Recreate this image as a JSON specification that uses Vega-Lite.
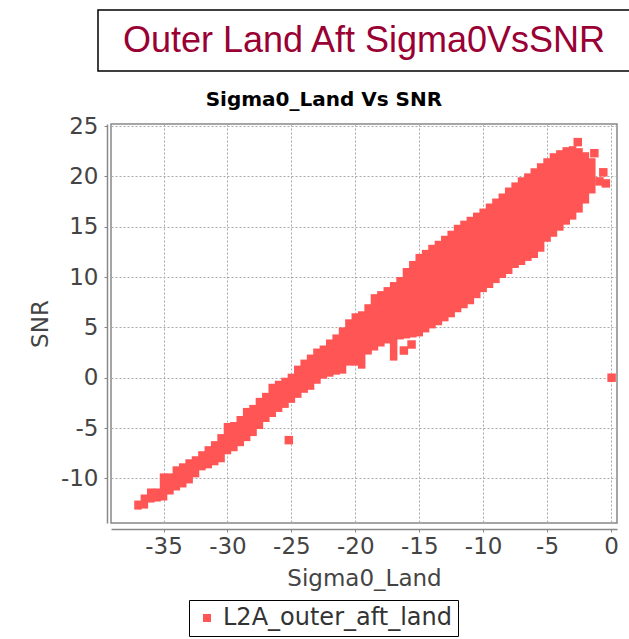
{
  "$schema": "https://vega.github.io/schema/vega-lite/v6.json",
  "padding": {"left": 28, "top": 9, "right": 0, "bottom": 2},
  "background": "white",
  "bounds": "flush",
  "center": true,
  "spacing": 53,
  "config": {
    "font": "DejaVu Sans",
    "view": {"stroke": "#888888", "strokeWidth": 1.5},
    "axis": {
      "domainColor": "#888888",
      "domainWidth": 1.5,
      "tickColor": "#888888",
      "tickSize": 3,
      "labelFont": "DejaVu Sans",
      "labelFontSize": 23,
      "labelColor": "#444444",
      "titleFont": "DejaVu Sans",
      "titleFontSize": 23,
      "titleFontWeight": "normal",
      "titleColor": "#444444",
      "gridColor": "#aaaaaa",
      "gridDash": [2, 2],
      "gridWidth": 1,
      "labelFlush": false,
      "labelOverlap": false,
      "labelExpr": "'' + datum.value"
    },
    "legend": {
      "labelFont": "DejaVu Sans",
      "labelFontSize": 24,
      "labelColor": "#333333",
      "labelLimit": 400,
      "strokeColor": "black",
      "padding": 6,
      "symbolType": "square",
      "symbolSize": 64,
      "symbolStrokeWidth": 0
    }
  },
  "datasets": {
    "header": [{"t": "Outer Land Aft Sigma0VsSNR"}],
    "band": [
      {"x": -37.0, "lo": -13.1, "hi": -12.2},
      {"x": -36.5, "lo": -13.0, "hi": -11.6},
      {"x": -36.0, "lo": -12.4, "hi": -11.0},
      {"x": -35.5, "lo": -12.3, "hi": -11.0},
      {"x": -35.0, "lo": -12.2, "hi": -9.5},
      {"x": -34.5, "lo": -11.6, "hi": -9.5},
      {"x": -34.0, "lo": -11.2, "hi": -8.8},
      {"x": -33.5, "lo": -10.9, "hi": -8.5},
      {"x": -33.0, "lo": -10.5, "hi": -8.1},
      {"x": -32.5, "lo": -9.9, "hi": -7.8},
      {"x": -32.0, "lo": -9.2, "hi": -7.3},
      {"x": -31.5, "lo": -9.0, "hi": -6.8},
      {"x": -31.0, "lo": -8.7, "hi": -6.3},
      {"x": -30.5, "lo": -8.4, "hi": -5.6},
      {"x": -30.0, "lo": -7.6, "hi": -4.5},
      {"x": -29.5, "lo": -7.3, "hi": -4.4},
      {"x": -29.0, "lo": -6.8, "hi": -3.8},
      {"x": -28.5, "lo": -6.3, "hi": -3.0},
      {"x": -28.0, "lo": -5.8, "hi": -2.7},
      {"x": -27.5, "lo": -5.1, "hi": -2.0},
      {"x": -27.0, "lo": -4.4, "hi": -1.5},
      {"x": -26.5, "lo": -3.9, "hi": -0.6},
      {"x": -26.0, "lo": -3.4, "hi": -0.3},
      {"x": -25.5, "lo": -3.0, "hi": 0.0},
      {"x": -25.0, "lo": -2.5, "hi": 0.4},
      {"x": -24.5, "lo": -2.0, "hi": 1.2},
      {"x": -24.0, "lo": -1.5, "hi": 1.8},
      {"x": -23.5, "lo": -1.2, "hi": 2.3},
      {"x": -23.0, "lo": -0.6, "hi": 2.9},
      {"x": -22.5, "lo": -0.1, "hi": 3.2},
      {"x": -22.0, "lo": 0.1, "hi": 3.8},
      {"x": -21.5, "lo": 0.3, "hi": 4.3},
      {"x": -21.0, "lo": 0.4, "hi": 5.0},
      {"x": -20.5, "lo": 1.2, "hi": 5.8},
      {"x": -20.0, "lo": 1.2, "hi": 6.4},
      {"x": -19.5, "lo": 0.9, "hi": 6.6},
      {"x": -19.0, "lo": 2.3, "hi": 7.3},
      {"x": -18.5, "lo": 2.7, "hi": 8.3},
      {"x": -18.0, "lo": 3.1, "hi": 8.6},
      {"x": -17.5, "lo": 3.4, "hi": 9.0},
      {"x": -17.0, "lo": 1.7, "hi": 9.5},
      {"x": -16.5, "lo": 3.8, "hi": 10.0},
      {"x": -16.0, "lo": 3.9, "hi": 10.9},
      {"x": -15.5, "lo": 4.0, "hi": 11.6},
      {"x": -15.0, "lo": 4.1, "hi": 12.3},
      {"x": -14.5, "lo": 4.5, "hi": 12.7},
      {"x": -14.0, "lo": 4.9, "hi": 13.2},
      {"x": -13.5, "lo": 5.2, "hi": 13.6},
      {"x": -13.0, "lo": 5.6, "hi": 14.1},
      {"x": -12.5, "lo": 6.0, "hi": 14.6},
      {"x": -12.0, "lo": 6.5, "hi": 15.2},
      {"x": -11.5, "lo": 6.9, "hi": 15.6},
      {"x": -11.0, "lo": 7.3, "hi": 16.0},
      {"x": -10.5, "lo": 7.9, "hi": 16.4},
      {"x": -10.0, "lo": 8.5, "hi": 16.8},
      {"x": -9.5, "lo": 8.9, "hi": 17.3},
      {"x": -9.0, "lo": 9.4, "hi": 17.8},
      {"x": -8.5, "lo": 9.9, "hi": 18.3},
      {"x": -8.0, "lo": 10.3, "hi": 18.9},
      {"x": -7.5, "lo": 10.9, "hi": 19.4},
      {"x": -7.0, "lo": 11.2, "hi": 19.9},
      {"x": -6.5, "lo": 11.6, "hi": 20.3},
      {"x": -6.0, "lo": 11.9, "hi": 20.8},
      {"x": -5.5, "lo": 12.5, "hi": 21.3},
      {"x": -5.0, "lo": 13.5, "hi": 21.8},
      {"x": -4.5, "lo": 14.0, "hi": 22.3},
      {"x": -4.0, "lo": 14.6, "hi": 22.6},
      {"x": -3.5, "lo": 15.2, "hi": 22.9},
      {"x": -3.0, "lo": 15.7, "hi": 23.0},
      {"x": -2.5, "lo": 16.4, "hi": 22.8},
      {"x": -2.0, "lo": 17.3, "hi": 22.4},
      {"x": -1.5, "lo": 18.3, "hi": 21.8}
    ],
    "pts": [
      {"x": -25.2, "y": -6.2},
      {"x": -16.2, "y": 2.7},
      {"x": -15.6, "y": 3.3},
      {"x": -2.6, "y": 23.4},
      {"x": -1.3, "y": 22.3},
      {"x": -0.6, "y": 20.4},
      {"x": -0.4, "y": 19.3},
      {"x": -0.9, "y": 19.5},
      {"x": 0.05, "y": 0.0}
    ]
  },
  "vconcat": [
    {
      "width": 532,
      "height": 61,
      "view": {"stroke": "black", "strokeWidth": 1.5},
      "data": {"name": "header"},
      "mark": {"type": "text", "font": "Liberation Sans", "fontSize": 36, "color": "#990033", "align": "center", "baseline": "middle"},
      "encoding": {"text": {"field": "t", "type": "nominal"}}
    },
    {
      "width": 506,
      "height": 399,
      "title": {"text": "Sigma0_Land Vs SNR", "font": "DejaVu Sans", "fontSize": 20, "fontWeight": "bold", "color": "#000000", "anchor": "middle", "frame": "bounds", "offset": 5},
      "layer": [
        {
          "data": {"name": "band"},
          "mark": {"type": "bar", "orient": "vertical", "width": 7.5, "clip": true},
          "encoding": {
            "x": {"field": "x", "type": "quantitative", "scale": {"domain": [-38.72, 0.08], "nice": false, "zero": false},
              "axis": {"values": [-35, -30, -25, -20, -15, -10, -5, 0], "title": "Sigma0_Land", "offset": 6, "labelPadding": 3, "titlePadding": 9}},
            "y": {"field": "lo", "type": "quantitative", "scale": {"domain": [-14.43, 25.2], "nice": false, "zero": false},
              "axis": {"values": [-10, -5, 0, 5, 10, 15, 20, 25], "title": "SNR", "offset": 4, "labelPadding": 6, "titlePadding": 8}},
            "y2": {"field": "hi"},
            "color": {"datum": "L2A_outer_aft_land", "type": "nominal", "scale": {"range": ["#FF5555"]}, "legend": {"title": null, "orient": "none", "legendX": 91, "legendY": 590}}
          }
        },
        {
          "data": {"name": "pts"},
          "mark": {"type": "point", "shape": "square", "filled": true, "size": 72, "opacity": 1, "clip": true},
          "encoding": {
            "x": {"field": "x", "type": "quantitative"},
            "y": {"field": "y", "type": "quantitative"},
            "color": {"datum": "L2A_outer_aft_land", "type": "nominal"}
          }
        }
      ]
    }
  ]
}
